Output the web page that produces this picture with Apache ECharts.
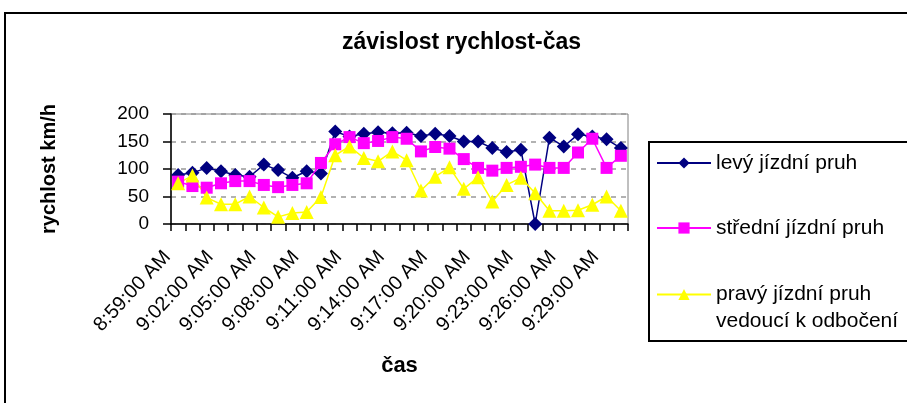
<!DOCTYPE html>
<html>
<head>
<meta charset="utf-8">
<script src="https://cdn.jsdelivr.net/npm/echarts@6/dist/echarts.min.js"></script>
<style>
html,body{margin:0;padding:0;background:#fff;}
#chart{width:907px;height:403px;}
</style>
</head>
<body>
<div id="chart"></div>
<script>
const categories = ['8:59:00 AM','9:00:00 AM','9:01:00 AM','9:02:00 AM','9:03:00 AM','9:04:00 AM','9:05:00 AM','9:06:00 AM',
  '9:07:00 AM','9:08:00 AM','9:09:00 AM','9:10:00 AM','9:11:00 AM','9:12:00 AM','9:13:00 AM','9:14:00 AM',
  '9:15:00 AM','9:16:00 AM','9:17:00 AM','9:18:00 AM','9:19:00 AM','9:20:00 AM','9:21:00 AM','9:22:00 AM',
  '9:23:00 AM','9:24:00 AM','9:25:00 AM','9:26:00 AM','9:27:00 AM','9:28:00 AM','9:29:00 AM','9:30:00 AM'];
const levy = [89, 93, 102, 96, 89, 86, 108, 98, 84, 96, 92, 168, 159, 164, 167, 165, 166, 160, 164, 160, 150, 150, 138, 131, 135, 0, 157, 141, 163, 159, 154, 138];
const stredni = [77, 69, 66, 74, 78, 78, 71, 67, 71, 74, 111, 145, 158, 147, 151, 158, 155, 132, 140, 137, 118, 102, 97, 102, 104, 108, 102, 102, 130, 155, 102, 124];
const pravy = [74, 88, 48, 36, 36, 50, 30, 13, 20, 22, 49, 125, 141, 120, 114, 132, 116, 61, 86, 103, 64, 85, 41, 71, 84, 56, 24, 24, 25, 35, 50, 24];
const seriesNames = ['levý jízdní pruh', 'střední jízdní pruh', 'pravý jízdní pruh vedoucí k odbočení'];
const yTicks = {min: 0, max: 200, interval: 50};

const FONT = '"Liberation Sans", Arial, sans-serif';
const chart = echarts.init(document.getElementById('chart'));
const legendText = {fontFamily: FONT, fontSize: 21, color: '#000', lineHeight: 24};
chart.setOption({
  animation: false,
  backgroundColor: '#fff',
  title: {
    text: 'závislost rychlost-čas',
    left: 342, top: 31, padding: 0,
    textStyle: {fontFamily: FONT, fontSize: 23, fontWeight: 'bold', color: '#000'}
  },
  graphic: [
    {type: 'rect', silent: true, z: -1, shape: {x: 5, y: 13, width: 960, height: 460}, style: {fill: 'none', stroke: '#000', lineWidth: 2}},
    {type: 'rect', silent: true, shape: {x: 649, y: 142, width: 300, height: 199}, style: {fill: 'none', stroke: '#000', lineWidth: 2}}
  ],
  legend: [
    {data: [seriesNames[0]], orient: 'vertical', left: 656, top: 151, padding: 0, itemWidth: 54, itemHeight: 14, selectedMode: false, textStyle: legendText},
    {data: [seriesNames[1]], orient: 'vertical', left: 656, top: 216, padding: 0, itemWidth: 54, itemHeight: 14, selectedMode: false, textStyle: legendText},
    {data: [seriesNames[2]], orient: 'vertical', left: 656, top: 254, padding: 0, itemWidth: 54, itemHeight: 14, selectedMode: false,
      formatter: function (n) { return '\n' + n.replace(' vedoucí', '\nvedoucí'); },
      textStyle: {fontFamily: FONT, fontSize: 21, color: '#000', lineHeight: 27}}
  ],
  grid: {left: 171, right: 279, top: 114, bottom: 179, show: true, borderColor: '#808080', borderWidth: 1, backgroundColor: '#fff'},
  xAxis: {
    type: 'category',
    data: categories,
    boundaryGap: true,
    name: 'čas',
    nameLocation: 'middle',
    nameGap: 131,
    nameTextStyle: {fontFamily: FONT, fontSize: 22, fontWeight: 'bold', color: '#000'},
    axisLine: {lineStyle: {color: '#000', width: 1.5}},
    axisTick: {show: true, interval: 0, length: 7, lineStyle: {color: '#000', width: 1.5}},
    axisLabel: {interval: 2, rotate: 47, margin: 18, padding: [0, 16, 0, 0], fontFamily: FONT, fontSize: 20, color: '#000'},
    splitLine: {show: false}
  },
  yAxis: {
    type: 'value',
    min: yTicks.min, max: yTicks.max, interval: yTicks.interval,
    name: 'rychlost km/h',
    nameLocation: 'middle',
    nameGap: 112,
    nameTextStyle: {fontFamily: FONT, fontSize: 20, fontWeight: 'bold', color: '#000'},
    axisLine: {show: true, lineStyle: {color: '#000', width: 1.5}},
    axisTick: {show: true, length: 8, lineStyle: {color: '#000', width: 1.5}},
    axisLabel: {margin: 22, fontFamily: FONT, fontSize: 19, color: '#000'},
    splitLine: {show: true, lineStyle: {color: '#999', width: 1.5, type: [5, 5]}}
  },
  series: [
    {name: seriesNames[0], type: 'line', data: levy, symbol: 'diamond', symbolSize: 14, showAllSymbol: true,
      lineStyle: {color: '#000080', width: 1.5}, itemStyle: {color: '#000080'}},
    {name: seriesNames[1], type: 'line', data: stredni, symbol: 'rect', symbolSize: 12, showAllSymbol: true,
      lineStyle: {color: '#FF00FF', width: 1.5}, itemStyle: {color: '#FF00FF'}},
    {name: seriesNames[2], type: 'line', data: pravy, symbol: 'triangle', symbolSize: 14, showAllSymbol: true,
      lineStyle: {color: '#FFFF00', width: 1.5}, itemStyle: {color: '#FFFF00'}}
  ]
});
</script>
</body>
</html>
